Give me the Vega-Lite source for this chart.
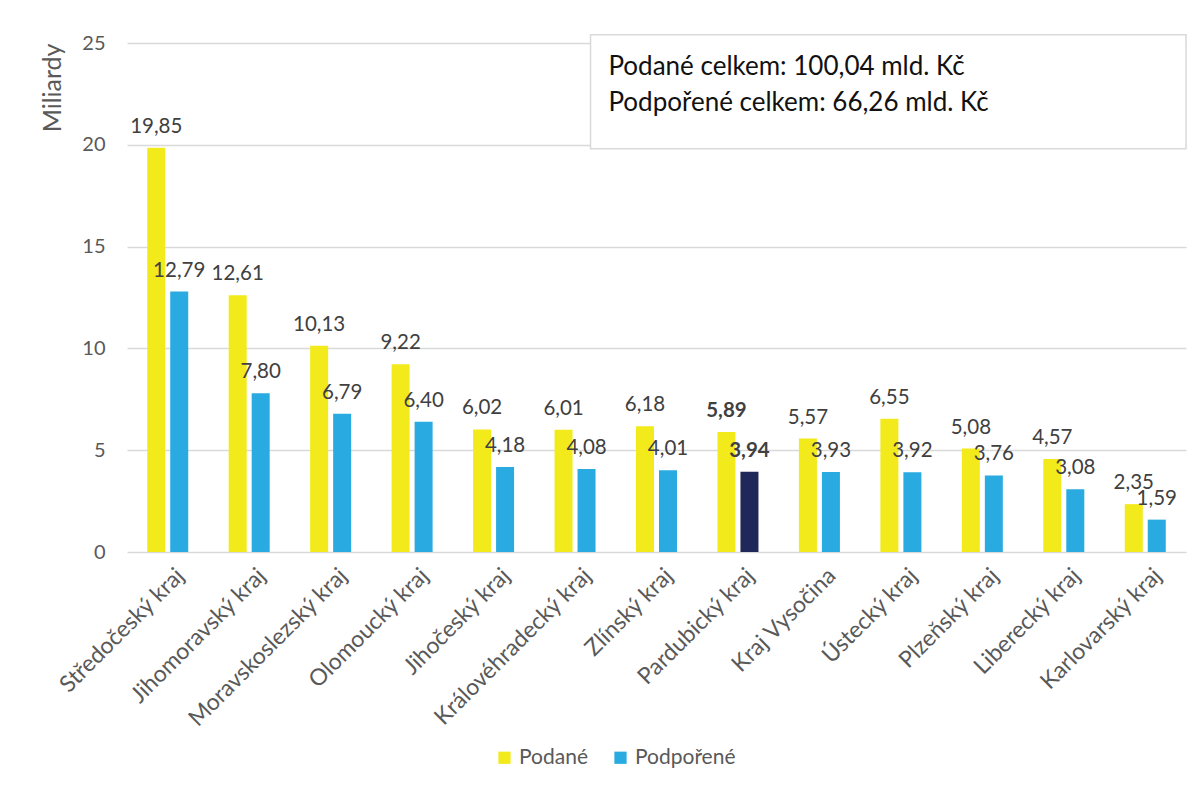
{
  "$schema": "https://vega.github.io/schema/vega-lite/v6.json",
  "width": 1059,
  "height": 509,
  "autosize": {"type": "none"},
  "padding": {"left": 127, "top": 43, "right": 17, "bottom": 237},
  "background": "white",
  "config": {
    "view": {"stroke": null},
    "font": "Lato",
    "locale": {"number": {"decimal": ",", "thousands": " ", "grouping": [3], "currency": ["", " Kč"]}},
    "axis": {"labelFont": "Lato", "titleFont": "Lato", "labelColor": "#595959", "titleColor": "#595959"},
    "legend": {"labelFont": "Lato"}
  },
  "data": {
    "values": [
      {"kraj": "Středočeský kraj", "typ": "Podané", "hodnota": 19.85},
      {"kraj": "Středočeský kraj", "typ": "Podpořené", "hodnota": 12.79},
      {"kraj": "Jihomoravský kraj", "typ": "Podané", "hodnota": 12.61},
      {"kraj": "Jihomoravský kraj", "typ": "Podpořené", "hodnota": 7.80},
      {"kraj": "Moravskoslezský kraj", "typ": "Podané", "hodnota": 10.13},
      {"kraj": "Moravskoslezský kraj", "typ": "Podpořené", "hodnota": 6.79},
      {"kraj": "Olomoucký kraj", "typ": "Podané", "hodnota": 9.22},
      {"kraj": "Olomoucký kraj", "typ": "Podpořené", "hodnota": 6.40},
      {"kraj": "Jihočeský kraj", "typ": "Podané", "hodnota": 6.02},
      {"kraj": "Jihočeský kraj", "typ": "Podpořené", "hodnota": 4.18},
      {"kraj": "Královéhradecký kraj", "typ": "Podané", "hodnota": 6.01},
      {"kraj": "Královéhradecký kraj", "typ": "Podpořené", "hodnota": 4.08},
      {"kraj": "Zlínský kraj", "typ": "Podané", "hodnota": 6.18},
      {"kraj": "Zlínský kraj", "typ": "Podpořené", "hodnota": 4.01},
      {"kraj": "Pardubický kraj", "typ": "Podané", "hodnota": 5.89},
      {"kraj": "Pardubický kraj", "typ": "Podpořené", "hodnota": 3.94},
      {"kraj": "Kraj Vysočina", "typ": "Podané", "hodnota": 5.57},
      {"kraj": "Kraj Vysočina", "typ": "Podpořené", "hodnota": 3.93},
      {"kraj": "Ústecký kraj", "typ": "Podané", "hodnota": 6.55},
      {"kraj": "Ústecký kraj", "typ": "Podpořené", "hodnota": 3.92},
      {"kraj": "Plzeňský kraj", "typ": "Podané", "hodnota": 5.08},
      {"kraj": "Plzeňský kraj", "typ": "Podpořené", "hodnota": 3.76},
      {"kraj": "Liberecký kraj", "typ": "Podané", "hodnota": 4.57},
      {"kraj": "Liberecký kraj", "typ": "Podpořené", "hodnota": 3.08},
      {"kraj": "Karlovarský kraj", "typ": "Podané", "hodnota": 2.35},
      {"kraj": "Karlovarský kraj", "typ": "Podpořené", "hodnota": 1.59}
    ]
  },
  "layer": [
    {
      "mark": {"type": "bar"},
      "encoding": {
        "x": {
          "field": "kraj",
          "type": "nominal",
          "sort": null,
          "scale": {"paddingInner": 0, "paddingOuter": 0},
          "axis": {
            "title": null,
            "labelAngle": -45,
            "labelFontSize": 23,
            "labelPadding": 12,
            "labelOffset": 5,
            "domain": false,
            "ticks": false,
            "labelLimit": 300
          }
        },
        "xOffset": {
          "field": "typ",
          "type": "nominal",
          "sort": ["Podané", "Podpořené"],
          "scale": {"paddingInner": 0.217, "paddingOuter": 0.88}
        },
        "y": {
          "field": "hodnota",
          "type": "quantitative",
          "scale": {"domain": [0, 25], "nice": false},
          "axis": {
            "values": [0, 5, 10, 15, 20, 25],
            "title": "Miliardy",
            "titleAnchor": "end",
            "titleFontSize": 25,
            "titleFontWeight": "normal",
            "titlePadding": 16,
            "labelFontSize": 20,
            "labelPadding": 22,
            "domain": false,
            "ticks": false,
            "gridColor": "#D9D9D9",
            "gridWidth": 1.5
          }
        },
        "color": {
          "condition": {"test": "datum.kraj === 'Pardubický kraj' && datum.typ === 'Podpořené'", "value": "#1F2858"},
          "field": "typ",
          "type": "nominal",
          "scale": {"domain": ["Podané", "Podpořené"], "range": ["#F2EA1B", "#29ABE2"]},
          "legend": {
            "title": null,
            "orient": "none",
            "legendX": 367,
            "legendY": 704,
            "direction": "horizontal",
            "symbolType": "square",
            "symbolSize": 150,
            "symbolStrokeWidth": 0,
            "labelFontSize": 21,
            "labelColor": "#595959",
            "columnPadding": 22
          }
        }
      }
    },
    {
      "transform": [{"filter": "datum.kraj !== 'Pardubický kraj'"}],
      "mark": {"type": "text", "baseline": "alphabetic", "dy": -15, "fontSize": 20.5, "color": "#404040"},
      "encoding": {
        "x": {"field": "kraj", "type": "nominal", "sort": null},
        "xOffset": {"field": "typ", "type": "nominal", "sort": ["Podané", "Podpořené"]},
        "y": {"field": "hodnota", "type": "quantitative"},
        "text": {"field": "hodnota", "type": "quantitative", "format": ".2f"}
      }
    },
    {
      "transform": [{"filter": "datum.kraj === 'Pardubický kraj'"}],
      "mark": {"type": "text", "baseline": "alphabetic", "dy": -15, "fontSize": 20.5, "fontWeight": "bold", "color": "#404040"},
      "encoding": {
        "x": {"field": "kraj", "type": "nominal", "sort": null},
        "xOffset": {"field": "typ", "type": "nominal", "sort": ["Podané", "Podpořené"]},
        "y": {"field": "hodnota", "type": "quantitative"},
        "text": {"field": "hodnota", "type": "quantitative", "format": ".2f"}
      }
    },
    {
      "data": {"values": [{"poznamka": "box"}]},
      "mark": {"type": "rect", "fill": "white", "stroke": "#D9D9D9", "strokeWidth": 1.5},
      "encoding": {
        "x": {"datum": "Královéhradecký kraj", "type": "nominal", "bandPosition": 0.69},
        "x2": {"value": "width"},
        "y": {"datum": 25.4, "type": "quantitative"},
        "y2": {"datum": 19.8}
      }
    },
    {
      "data": {"values": [{"poznamka": "Podané celkem: 100,04 mld. Kč\nPodpořené celkem: 66,26 mld. Kč"}]},
      "mark": {"type": "text", "align": "left", "baseline": "alphabetic", "fontSize": 26, "lineHeight": 36, "lineBreak": "\n", "color": "#111111"},
      "encoding": {
        "x": {"datum": "Královéhradecký kraj", "type": "nominal", "bandPosition": 0.91},
        "y": {"datum": 23.43, "type": "quantitative"},
        "text": {"field": "poznamka", "type": "nominal"}
      }
    }
  ]
}
